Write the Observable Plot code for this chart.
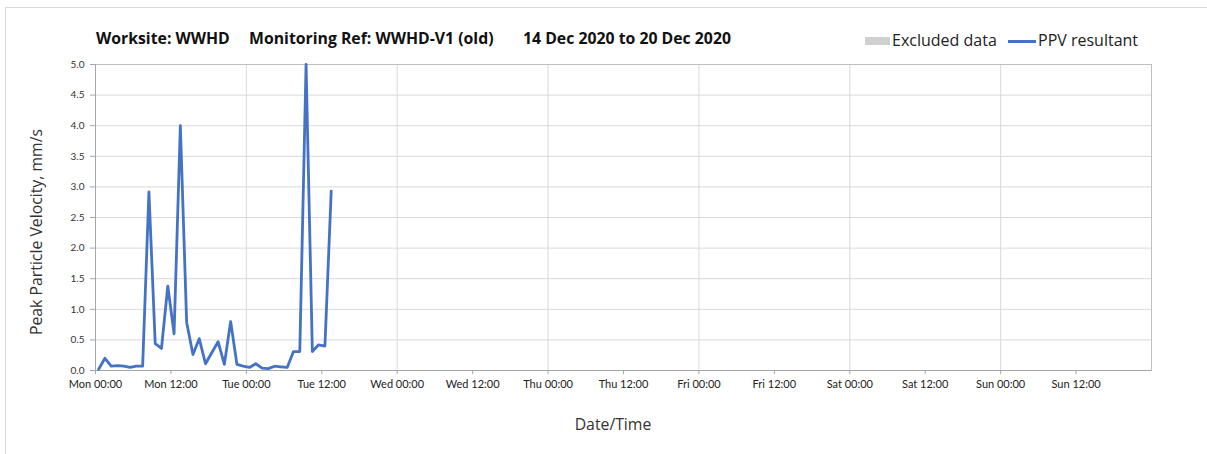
<!DOCTYPE html>
<html>
<head>
<meta charset="utf-8">
<script src="https://cdn.jsdelivr.net/npm/d3@7"></script>
<script src="https://cdn.jsdelivr.net/npm/@observablehq/plot@0.6"></script>
<style>
  html, body { margin: 0; padding: 0; background: #fff; }
  body { width: 1207px; height: 454px; overflow: hidden; position: relative; font-family: Lato, "Open Sans", sans-serif; }
  #frame { position: absolute; left: 5px; top: 7px; width: 1210px; height: 460px; border-left: 1px solid #d9d9d9; border-top: 1px solid #d9d9d9; box-sizing: border-box; }
  .title { position: absolute; top: 28px; font-family: "Open Sans", sans-serif; font-weight: bold; font-size: 15.8px; line-height: 20px; color: #111; white-space: nowrap; }
  .leg { position: absolute; top: 30px; font-family: "Open Sans", sans-serif; font-size: 16px; line-height: 20px; color: #222; white-space: nowrap; }
  .sw { position: absolute; }
  #chart { position: absolute; left: 0; top: 0; }
  .lab { position: absolute; font-family: "Open Sans", sans-serif; font-size: 15.8px; color: #333; white-space: nowrap; }
</style>
</head>
<body>
<div id="frame"></div>
<div id="chart"></div>
<script>
// ---- data ----
const titleParts = ["Worksite: WWHD", "Monitoring Ref: WWHD-V1 (old)", "14 Dec 2020 to 20 Dec 2020"];
const legendLabels = ["Excluded data", "PPV resultant"];
const yLabel = "Peak Particle Velocity, mm/s";
const xLabel = "Date/Time";
const times = [
  "2020-12-14T00:30Z","2020-12-14T01:30Z","2020-12-14T02:30Z","2020-12-14T03:30Z","2020-12-14T04:30Z",
  "2020-12-14T05:30Z","2020-12-14T06:30Z","2020-12-14T07:30Z","2020-12-14T08:30Z","2020-12-14T09:30Z",
  "2020-12-14T10:30Z","2020-12-14T11:30Z","2020-12-14T12:30Z","2020-12-14T13:30Z","2020-12-14T14:30Z",
  "2020-12-14T15:30Z","2020-12-14T16:30Z","2020-12-14T17:30Z","2020-12-14T18:30Z","2020-12-14T19:30Z",
  "2020-12-14T20:30Z","2020-12-14T21:30Z","2020-12-14T22:30Z","2020-12-14T23:30Z","2020-12-15T00:30Z",
  "2020-12-15T01:30Z","2020-12-15T02:30Z","2020-12-15T03:30Z","2020-12-15T04:30Z","2020-12-15T05:30Z",
  "2020-12-15T06:30Z","2020-12-15T07:30Z","2020-12-15T08:30Z","2020-12-15T09:30Z","2020-12-15T10:30Z",
  "2020-12-15T11:30Z","2020-12-15T12:30Z","2020-12-15T13:30Z"
];
const ppv = [
  0.02, 0.20, 0.07, 0.08, 0.07,
  0.05, 0.07, 0.07, 2.92, 0.44,
  0.36, 1.38, 0.60, 4.00, 0.79,
  0.26, 0.52, 0.11, 0.29, 0.47,
  0.10, 0.80, 0.10, 0.07, 0.05,
  0.11, 0.04, 0.03, 0.07, 0.06,
  0.05, 0.31, 0.31, 5.00, 0.31,
  0.42, 0.40, 2.93
];
const xDomain = ["2020-12-14T00:00Z", "2020-12-21T00:00Z"];
const yTicks = [0, 0.5, 1, 1.5, 2, 2.5, 3, 3.5, 4, 4.5, 5];

// ---- build ----
const data = times.map((t, i) => ({ t: new Date(t), v: ppv[i] }));
const x0 = new Date(xDomain[0]), x1 = new Date(xDomain[1]);
const dayTicks = d3.utcDay.range(x0, new Date(+x1 + 1));
const halfDayTicks = d3.utcHour.every(12).range(x0, x1);
const fmt = d3.utcFormat("%a %H:%M");

const W = 1207, H = 454;
const plot = Plot.plot({
  width: W, height: H,
  marginLeft: 95, marginRight: 56, marginTop: 64, marginBottom: 84,
  style: { fontFamily: "Lato, 'Open Sans', sans-serif", background: "transparent", overflow: "visible" },
  x: { type: "utc", domain: [x0, x1] },
  y: { domain: [0, 5] },
  marks: [
    Plot.gridY(yTicks, { stroke: "#d9d9d9", strokeOpacity: 1, strokeWidth: 1 }),
    Plot.gridX(dayTicks, { stroke: "#d9d9d9", strokeOpacity: 1, strokeWidth: 1 }),
    Plot.frame({ stroke: "#bfbfbf" }),
    Plot.axisY(yTicks, { tickFormat: d3.format(".1f"), tickSize: 5, tickPadding: 6, fontSize: 10, color: "#333", stroke: "#a6a6a6", label: null }),
    Plot.axisX(halfDayTicks, { tickFormat: fmt, tickSize: 4, tickPadding: 6, fontSize: 11, color: "#222", stroke: "#a6a6a6", label: null }),
    Plot.ruleY([0], { stroke: "#a6a6a6" }),
    Plot.ruleX([x0], { stroke: "#a6a6a6" }),
    Plot.line(data, { x: "t", y: "v", stroke: "#4472c4", strokeWidth: 2.8, strokeLinejoin: "round" })
  ]
});
document.getElementById("chart").appendChild(plot);

function addDiv(cls, text, left, top, extra) {
  const d = document.createElement("div");
  d.className = cls; d.textContent = text;
  d.style.left = left + "px"; if (top != null) d.style.top = top + "px";
  if (extra) Object.assign(d.style, extra);
  document.body.appendChild(d);
  return d;
}
// titles
const tPos = [96, 249, 523];
titleParts.forEach((s, i) => addDiv("title", s, tPos[i]));
// legend
addDiv("sw", "", 865, 37, { width: "25px", height: "8px", background: "#d0d0d0" });
addDiv("leg", legendLabels[0], 892);
addDiv("sw", "", 1008, 40, { width: "28px", height: "3px", background: "#4472c4" });
addDiv("leg", legendLabels[1], 1038);
// axis labels
addDiv("lab", xLabel, 613, 413, { transform: "translateX(-50%)" });
addDiv("lab", yLabel, 36, 232, { transform: "translate(-50%,-50%) rotate(-90deg)" });
</script>
</body>
</html>
